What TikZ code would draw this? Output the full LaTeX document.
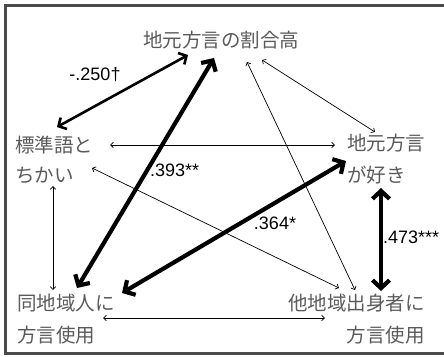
\documentclass[tikz,border=0pt]{standalone}
\usepackage{fontspec}
\setmainfont{Liberation Sans}
\newfontfamily\jp{Noto Sans CJK JP}
\usetikzlibrary{arrows.meta}
\definecolor{framec}{HTML}{4A4A4A}
\definecolor{txtc}{HTML}{5A5A5A}
\tikzset{
  jlab/.style={font=\jp\fontsize{19.5}{20}\selectfont, text=txtc, inner sep=0pt},
  num/.style={font=\fontsize{18}{19}\selectfont, text=black, inner sep=0pt},
  thinarr/.style={line width=0.7pt, {Straight Barb[length=2.8pt,width=5.5pt]}-{Straight Barb[length=2.8pt,width=5.5pt]}},
  midarr/.style={line width=2.6pt, {Straight Barb[length=6pt,width=13pt]}-{Straight Barb[length=6pt,width=13pt]}},
  thickarr/.style={line width=4.2pt, {Straight Barb[length=8pt,width=17pt]}-{Straight Barb[length=8pt,width=17pt]}}
}
\begin{document}
\begin{tikzpicture}[x=1pt,y=-1pt]
\useasboundingbox (0,0) rectangle (444,356);
\clip (0,0) rectangle (444,356);
\draw[framec, line width=3.2pt] (5.5,5.5) rectangle (470,353.5);

% texts
\node[jlab] (top) at (221,40) {地元方言の割合高};
\node[jlab, anchor=west] (l1) at (15,145) {標準語と};
\node[jlab, anchor=west] (l2) at (15,175) {ちかい};
\node[jlab, anchor=west] (r1) at (347,143) {地元方言};
\node[jlab, anchor=west] (r2) at (347,175) {が好き};
\node[jlab, anchor=west] (bl1) at (17,303) {同地域人に};
\node[jlab, anchor=west] (bl2) at (17,335) {方言使用};
\node[jlab, anchor=east] (br1) at (425,303) {他地域出身者に};
\node[jlab, anchor=east] (br2) at (425,335) {方言使用};

% labels
\node[num] (n1) at (95,75) {-.250†};
\node[num, anchor=west] (n2) at (150,170) {.393**};
\node[num] (n3) at (275,223) {.364*};
\node[num, anchor=west] (n4) at (383,237) {.473***};

% endpoints
\coordinate (a1) at (57,127);  \coordinate (a2) at (188,55);
\coordinate (b1) at (214,58);  \coordinate (b2) at (77,288);
\coordinate (c1) at (122,293); \coordinate (c2) at (346,161);
\coordinate (d1) at (381,188); \coordinate (d2) at (381,291);
\coordinate (e1) at (110,145); \coordinate (e2) at (335,145);
\coordinate (f1) at (53,186);  \coordinate (f2) at (53,290);
\coordinate (g1) at (103,318); \coordinate (g2) at (325,318);
\coordinate (h1) at (262,60);  \coordinate (h2) at (375,132);
\coordinate (i1) at (247,62);  \coordinate (i2) at (355,290);
\coordinate (j1) at (92,168);  \coordinate (j2) at (339,288);

% thin connectors
\draw[thinarr] (e1) -- (e2);
\draw[thinarr] (f1) -- (f2);
\draw[thinarr] (g1) -- (g2);
\draw[thinarr] (h1) -- (h2);
\draw[thinarr] (i1) -- (i2);
\draw[thinarr] (j1) -- (j2);

% thick connectors
\draw[midarr] (a1) -- (a2);
\draw[thickarr] (b1) -- (b2);
\draw[thickarr] (c1) -- (c2);
\draw[thickarr] (d1) -- (d2);
\end{tikzpicture}
\end{document}
